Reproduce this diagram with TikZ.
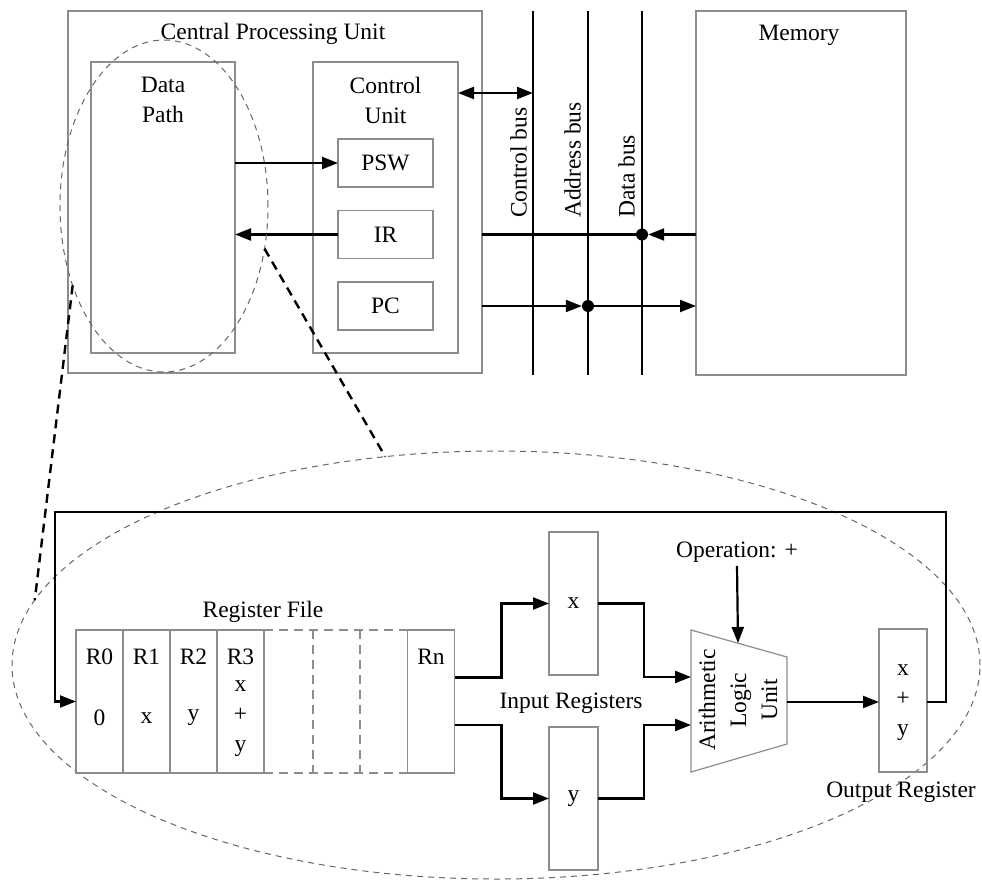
\documentclass[tikz,border=0pt]{standalone}
\usepackage{fontspec}
\setmainfont{Liberation Serif}
\usetikzlibrary{arrows.meta,shapes.geometric}
\definecolor{boxgray}{gray}{0.55}
\definecolor{ringgray}{gray}{0.4}

\begin{document}
\begin{tikzpicture}[x=1pt,y=-1pt,font=\fontsize{23.5}{30}\selectfont,
    box/.style={draw=boxgray,line width=1.2pt,inner sep=0pt,outer sep=0pt},
    wire/.style={line width=2.2pt},
    arr/.style={wire,-{Triangle[length=16pt,width=12pt]}},
    dbl/.style={wire,{Triangle[length=16pt,width=12pt]}-{Triangle[length=16pt,width=12pt]}},
    dot/.style={circle,fill,inner sep=0pt,minimum size=12pt},
    zoomring/.style={ellipse,draw=ringgray,line width=1pt,dash pattern=on 6pt off 5pt,inner sep=0pt,outer sep=0pt},
    zoomline/.style={line width=2.4pt,dash pattern=on 9pt off 6pt}]
            \useasboundingbox (0,0) rectangle (982,881);
            % top half: cpu, buses, memory
            \begin{scope}[every node/.style={box}]
            \node[minimum width=414pt,minimum height=362pt] (cpu) at (275,192) {};
            \node[minimum width=144pt,minimum height=291pt] (dp) at (163,207.5) {};
            \node[minimum width=145pt,minimum height=291pt] (cu) at (385.5,207.5) {};
            \node[minimum width=95pt,minimum height=48pt] (psw) at (385.5,163) {PSW};
            \node[minimum width=95pt,minimum height=48pt] (ir) at (385.5,234.5) {IR};
            \node[minimum width=95pt,minimum height=48pt] (pc) at (385.5,306) {PC};
            \node[minimum width=210pt,minimum height=364pt] (mem) at (801,193) {};
            \end{scope}
            \node (cpulbl) at (273,34) {Central Processing Unit};
            \node[align=center] (dplbl) at (163,100) {Data\\Path};
            \node[align=center] (culbl) at (385.5,100) {Control\\Unit};
            \node (memlbl) at (799,35) {Memory};
            \coordinate (cbt) at (533,11);  \coordinate (cbb) at (533,375);
            \coordinate (abt) at (588,11);  \coordinate (abb) at (588,375);
            \coordinate (dbt) at (642,11);  \coordinate (dbb) at (642,375);
            \coordinate (cbm) at (533,93);
            \draw[wire] (cbt) -- (cbb);
            \draw[wire] (abt) -- (abb);
            \draw[wire] (dbt) -- (dbb);
            \begin{scope}[every node/.style={rotate=90,anchor=south west,inner sep=0pt}]
            \node (cblbl) at (527,218) {Control bus};
            \node (ablbl) at (581,218) {Address bus};
            \node (dblbl) at (635,218) {Data bus};
            \end{scope}
            \node[dot] (ddot) at (642,234.5) {};
            \node[dot] (adot) at (588,306) {};
            \draw[dbl] (cu.east |- cbm) -- (cbm);
            \draw[arr] (dp.east |- psw) -- (psw.west);
            \draw[arr] (ir.west) -- (ir -| dp.east);
            \draw[wire] (cpu.east |- ir) -- (ddot);
            \draw[arr] (mem.west |- ir) -- (ddot.east);
            \draw[arr] (cpu.east |- pc) -- (adot.west);
            \draw[arr] (adot) -- (mem.west |- pc);
            % zoom into the data path
            \node[zoomring,minimum width=208pt,minimum height=332pt] (dpzoom) at (164,206) {};
            \node[zoomring,minimum width=968pt,minimum height=428pt] (dpview) at (496,665) {};
            \draw[zoomline] (dpzoom.221) -- (dpview.172);
            \draw[zoomline] (dpzoom.337) -- (dpview.118);
            % bottom half: register file, alu
            \begin{scope}[every node/.style={box,minimum width=47pt,minimum height=143pt}]
            \foreach \i in {0,1,2,3}
              \node (r\i) at (99.5+47*\i,701.5) {};
            \node (rn) at (431,701.5) {};
            \node[minimum width=49pt] (xin) at (573.5,603.5) {x};
            \node[minimum width=49pt] (yin) at (573.5,798.5) {y};
            \node[minimum width=48pt] (out) at (903,700.5) {};
            \end{scope}
            \foreach \i/\v in {0/0,1/x,2/y}{
              \node at (99.5+47*\i,657) {R\i};
              \node at (99.5+47*\i,718) {\v};
            }
            \node at (240.5,657) {R3};
            \node[align=center] at (240.5,719) {x\\+\\y};
            \node at (431,657) {Rn};
            \node[align=center] at (903,702.5) {x\\+\\y};
            \draw[box,dashed,dash pattern=on 9pt off 6pt] (r3.north east) -- (rn.north west)
              (r3.south east) -- (rn.south west)
              (313,630) -- (313,773) (360,630) -- (360,773);
            \node (rflbl) at (263,612) {Register File};
            \node (inlbl) at (571,703) {Input Registers};
            \node (outlbl) at (901,792) {Output Register};
            \coordinate (alua) at (691,677);
            \coordinate (alub) at (691,725);
            \coordinate (aluop) at (738,643);
            \coordinate (aluout) at (787,702);
            \draw[box] (691,630) -- (787,657) -- (787,744) -- (691,772) -- cycle;
            \node[rotate=90,align=center,font=\fontsize{23.5}{31}\selectfont] (alu) at (738,700) {Arithmetic\\Logic\\Unit};
            \node (opn) at (737,552) {Operation: +};
            \coordinate (loopR) at (946,512);
            \coordinate (loopL) at (55,512);
            \draw[arr] ([yshift=24pt]rn.east) -- ++(47,0) |- (xin.west);
            \draw[arr] ([yshift=-23.5pt]rn.east) -- ++(47,0) |- (yin.west);
            \draw[arr] (xin.east) -- ++(46,0) |- (alua);
            \draw[arr] (yin.east) -- ++(46,0) |- (alub);
            \draw[arr] (opn.south) -- (aluop);
            \draw[arr] (aluout) -- (out.west |- aluout);
            \draw[arr] (out.east |- aluout) -| (loopR) -- (loopL) |- (r0.west);
\end{tikzpicture}
\end{document}
